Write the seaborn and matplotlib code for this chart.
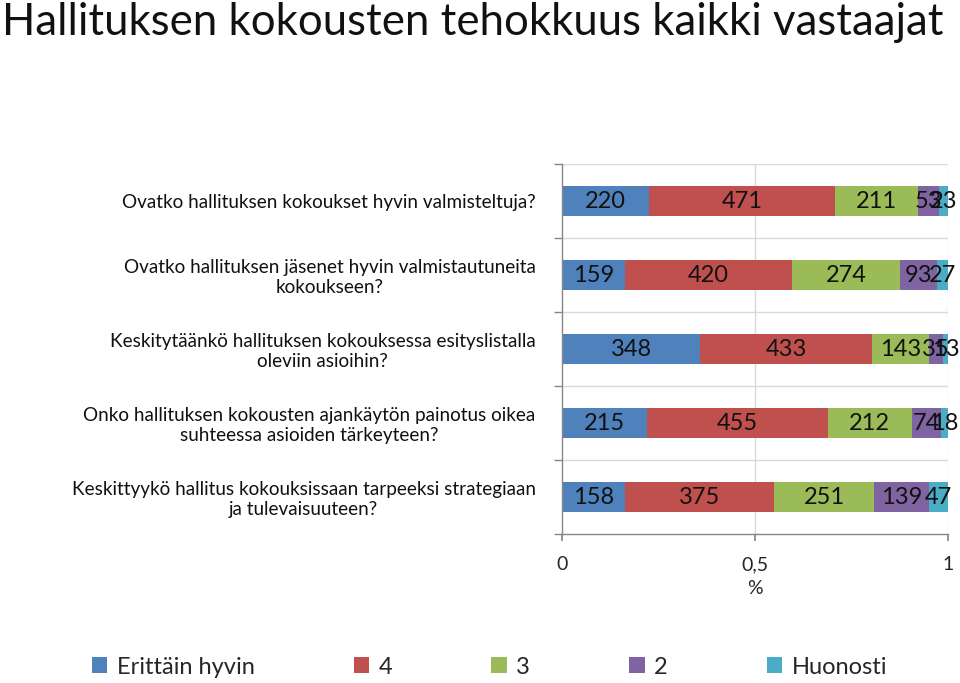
import numpy as np
import pandas as pd
import seaborn as sns
import matplotlib.pyplot as plt
from matplotlib.patches import Patch

title = "Hallituksen kokousten tehokkuus kaikki vastaajat"
questions = [
    "Ovatko hallituksen kokoukset hyvin valmisteltuja?",
    "Ovatko hallituksen jäsenet hyvin valmistautuneita\nkokoukseen?",
    "Keskitytäänkö hallituksen kokouksessa esityslistalla\noleviin asioihin?",
    "Onko hallituksen kokousten ajankäytön painotus oikea\nsuhteessa asioiden tärkeyteen?",
    "Keskittyykö hallitus kokouksissaan tarpeeksi strategiaan\nja tulevaisuuteen?",
]
series = ["Erittäin hyvin", "4", "3", "2", "Huonosti"]
erittain_hyvin = [220, 159, 348, 215, 158]
nelja = [471, 420, 433, 455, 375]
kolme = [211, 274, 143, 212, 251]
kaksi = [53, 93, 35, 74, 139]
huonosti = [23, 27, 13, 18, 47]
colors = ["#4F81BD", "#C0504D", "#9BBB59", "#8064A2", "#4BACC6"]
xticks = [0, 0.5, 1]
xticklabels = ["0", "0,5", "1"]
xlabel = "%"

sns.set_theme(style="white")
plt.rcParams['font.family'] = ['Lato', 'DejaVu Sans']

counts = np.array([erittain_hyvin, nelja, kolme, kaksi, huonosti], dtype=float)
frac = counts / counts.sum(axis=0)
cum = frac.cumsum(axis=0)

fig = plt.figure(figsize=(9.6, 6.83), dpi=100)
ax = fig.add_axes([562 / 960, 1 - 534 / 683, (948 - 562) / 960, (534 - 164) / 683])

grid_c = "#D9D9D9"
for xv in [0.5, 1.0]:
    ax.axvline(xv, color=grid_c, lw=1, zorder=0)
for yv in [-0.5, 0.5, 1.5, 2.5, 3.5]:
    ax.axhline(yv, color=grid_c, lw=1, zorder=0)

for i in reversed(range(len(series))):
    df = pd.DataFrame({"q": questions, "v": cum[i]})
    sns.barplot(data=df, x="v", y="q", color=colors[i], width=0.4,
                saturation=1, linewidth=0, orient="h", ax=ax, zorder=2)

for i in range(len(series)):
    for j in range(len(questions)):
        c = cum[i][j] - frac[i][j] / 2
        ax.text(c, j, f"{int(counts[i][j])}", ha="center", va="center",
                fontsize=17, color="#111111", zorder=3)

ax.set_xlim(0, 1)
ax.set_ylim(4.5, -0.5)
ax.set_xticks(xticks)
ax.set_xticklabels(xticklabels, fontsize=14)
ax.set_xlabel(xlabel, fontsize=14, labelpad=5)
ax.set_ylabel("")
ax.set_yticks(range(len(questions)))
ax.set_yticklabels(questions, fontsize=13.6, multialignment="center", color="#111111")
ax.set_yticks([-0.5, 0.5, 1.5, 2.5, 3.5, 4.5], minor=True)
ax.tick_params(axis="y", which="major", length=0, pad=19)
ax.tick_params(axis="y", which="minor", length=6, color="#868686", left=True)
ax.tick_params(axis="x", which="major", length=5, color="#868686", bottom=True, pad=11)
for s in ["top", "right"]:
    ax.spines[s].set_visible(False)
for s in ["left", "bottom"]:
    ax.spines[s].set_color("#868686")
    ax.spines[s].set_linewidth(1)

fig.text(0.002, 0.997, title, fontsize=31.5, va="top", ha="left", color="#111111")

handles = [Patch(facecolor=c, edgecolor="none") for c in colors]
fig.legend(handles, series, loc="center", bbox_to_anchor=(0.51, 0.0234), ncol=5,
           frameon=False, fontsize=17, handlelength=0.65, handleheight=0.65,
           columnspacing=4.2, handletextpad=0.4)

fig.savefig("out.png", dpi=100)
